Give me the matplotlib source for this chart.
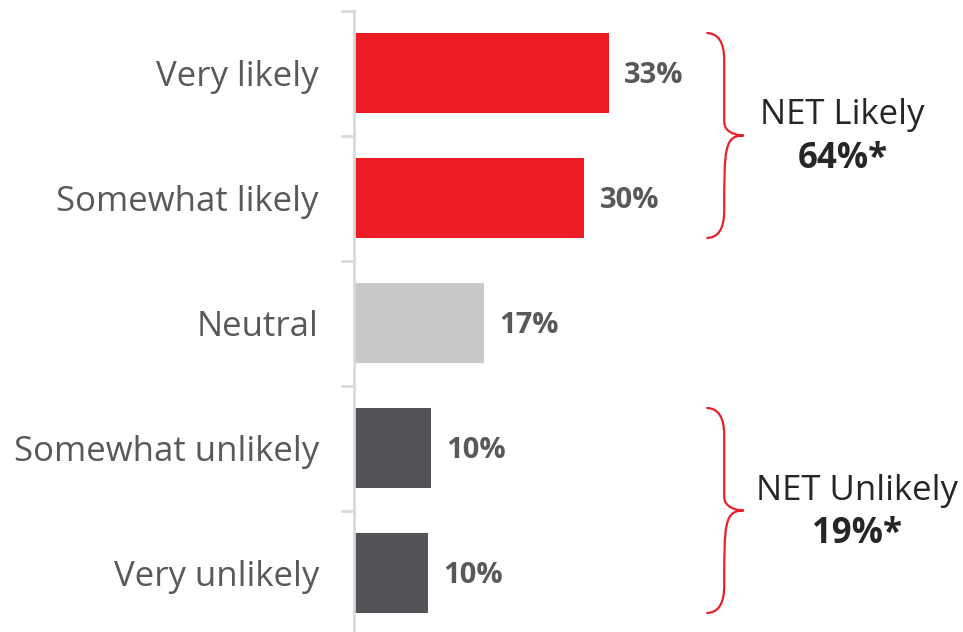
import matplotlib.pyplot as plt
from matplotlib.path import Path
from matplotlib.patches import PathPatch

# data
categories = ['Very likely', 'Somewhat likely', 'Neutral', 'Somewhat unlikely', 'Very unlikely']
values = [33.0, 29.8, 16.8, 10.0, 9.6]
value_labels = ['33%', '30%', '17%', '10%', '10%']
bar_colors = ['#ED1C24', '#ED1C24', '#C8C8C8', '#545458', '#545458']

net_names = ['NET Likely', 'NET Unlikely']
net_values = ['64%*', '19%*']
net_groups = [(0, 1), (3, 4)]

plt.rcParams['font.family'] = ['Open Sans', 'DejaVu Sans']

fig = plt.figure(figsize=(9.63, 6.32), dpi=100)
# axes placed in pixel terms: x0 at 353.5 px, category band 10.5 .. 635.5 px
ax = fig.add_axes([353.5 / 963, -3.5 / 632, 610 / 963, 625 / 632])
ax.set_xlim(0, 610 / 7.74)
ax.set_ylim(4.5, -0.5)

bar_h = 0.64
ax.barh(range(len(values)), values, height=bar_h, color=bar_colors)

for i, (v, lab) in enumerate(zip(values, value_labels)):
    ax.text(v + 2.0, i + 0.02, lab, va='center', ha='left', fontsize=21,
            fontweight='bold', color='#595959')

# category labels drawn as tick labels
ax.set_yticks(range(len(categories)))
ax.set_yticklabels(categories, fontsize=25, color='#595959')
ax.tick_params(axis='y', length=0, pad=25)
ax.set_xticks([])

# small ticks between categories
for b in [-0.5, 0.5, 1.5, 2.5, 3.5]:
    ax.plot([-1.45, 0], [b, b], color='#D9D9D9', lw=2, clip_on=False)

for s in ['top', 'right', 'bottom']:
    ax.spines[s].set_visible(False)
ax.spines['left'].set_color('#D9D9D9')
ax.spines['left'].set_linewidth(2)


def brace(ax, y0, y1, x0, x1, xt):
    ym = (y0 + y1) / 2
    r = 0.22
    verts = [(x0, y0), (x1, y0), (x1, y0 + r),
             (x1, ym - r / 2),
             (x1, ym), (xt, ym), (xt, ym),
             (x1, ym), (x1, ym + r / 2),
             (x1, y1 - r),
             (x1, y1), (x0, y1)]
    codes = [Path.MOVETO, Path.CURVE3, Path.CURVE3,
             Path.LINETO,
             Path.CURVE4, Path.CURVE4, Path.CURVE4,
             Path.CURVE4, Path.CURVE4, Path.CURVE4,
             Path.CURVE3, Path.CURVE3]
    p = PathPatch(Path(verts, codes), fill=False, edgecolor='#E8202A', lw=1.6,
                  clip_on=False)
    ax.add_patch(p)


net_x = [63.2, 65.0]
for (g0, g1), name, nv, tx in zip(net_groups, net_names, net_values, net_x):
    brace(ax, g0 - 0.32, g1 + 0.32, 45.6, 47.9, 50.4)
    ym = (g0 + g1) / 2
    ax.text(tx, ym - 0.16, name, ha='center', va='center', fontsize=25,
            color='#262626')
    ax.text(tx, ym + 0.19, nv, ha='center', va='center', fontsize=25,
            fontweight='bold', color='#262626')

fig.savefig('out.png', dpi=100)
